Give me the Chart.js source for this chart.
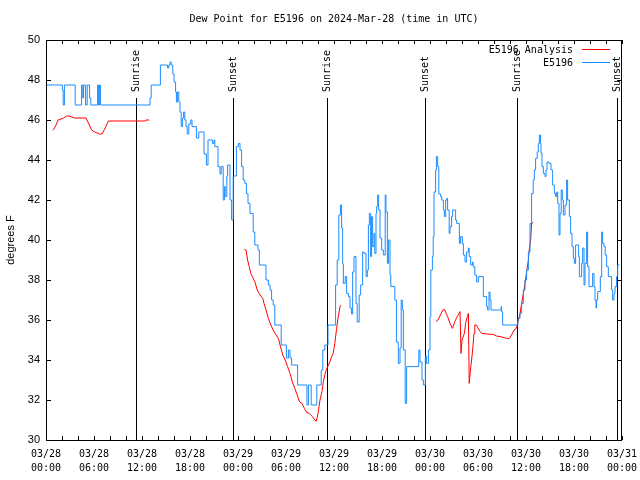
<!DOCTYPE html>
<html>
<head>
<meta charset="utf-8">
<script src="https://cdn.jsdelivr.net/npm/chart.js@4/dist/chart.umd.min.js"></script>
<style>
  html, body { margin: 0; padding: 0; background: #fff; }
  canvas { display: block; }
</style>
</head>
<body>
<canvas id="dew" width="640" height="480"></canvas>
<script>
// data (hours since 03/28 00:00 UTC, degrees F)
const blueHours = [
  0, 2.05, 2.15, 2.3, 3.65, 4.45, 4.6, 4.7, 4.95, 5.15, 5.45, 5.6, 6.45, 6.55, 6.7, 6.8,
  13.0, 13.15, 14.3, 15.2, 15.35, 15.5, 15.65, 15.85, 16.0, 16.2, 16.3, 16.45, 16.6, 16.75, 16.9,
  17.05, 17.2, 17.35, 17.5, 17.65, 17.85, 18.1, 18.25, 18.8, 19.1, 19.75, 20.05, 20.25, 20.8, 21.0,
  21.1, 21.5, 21.75, 21.9, 22.15, 22.3, 22.4, 22.6, 22.7, 23.0, 23.2, 23.4, 23.8, 24.05, 24.25,
  24.45, 24.65, 24.85, 25.05, 25.25, 25.5, 25.9, 26.1, 26.5, 26.67, 27.5, 27.8, 28.0, 28.2, 28.4,
  28.6, 29.4, 30.05, 30.3, 30.5, 30.7, 31.45, 32.62, 32.8, 33.15, 33.85, 34.4, 34.6, 34.85, 35.25,
  36.2, 36.4, 36.6, 36.8, 36.95, 37.08, 37.17, 37.4, 37.58, 37.8, 38.0, 38.2, 38.33, 38.5, 38.75,
  38.9, 39.15, 39.33, 39.58, 39.75, 40.0, 40.17, 40.3, 40.42, 40.58, 40.7, 40.83, 41.0, 41.1, 41.25,
  41.33, 41.46, 41.58, 41.75, 41.96, 42.17, 42.4, 42.5, 42.67, 42.8, 43.0, 43.1, 43.6, 43.8, 44.04,
  44.25, 44.4, 44.54, 44.67, 44.9, 45.08, 46.6, 46.75, 47.0, 47.2, 47.42, 47.58, 47.8, 48.0, 48.1,
  48.3, 48.4, 48.5, 48.7, 48.8, 48.96, 49.1, 49.33, 49.46, 49.67, 49.8, 49.96, 50.08, 50.2, 50.4,
  50.5, 50.7, 50.83, 51.2, 51.33, 51.67, 51.83, 52.04, 52.17, 52.375, 52.58, 52.8, 52.9, 53.08, 53.3,
  53.4, 53.6, 53.83, 54.04, 54.67, 55.08, 55.2, 55.375, 55.5, 55.625, 56.9, 56.96, 57.08, 59.0, 59.25,
  59.46, 59.67, 59.875, 60.08, 60.3, 60.5, 60.7, 60.9, 61.04, 61.2, 61.4, 61.54, 61.67, 61.8, 61.875,
  62.0, 62.17, 62.375, 62.5, 62.625, 62.875, 63.125, 63.33, 63.54, 63.7, 63.83, 63.96, 64.125, 64.25, 64.4,
  64.54, 64.67, 64.875, 65.08, 65.2, 65.42, 65.58, 65.75, 65.92, 66.04, 66.2, 66.58, 66.67, 66.96, 67.08,
  67.25, 67.375, 67.58, 67.7, 67.875, 68.33, 68.5, 68.625, 68.75, 68.83, 68.96, 69.29, 69.46, 69.58, 69.75,
  69.9, 70.08, 70.29, 70.7, 70.83, 71.0, 71.125, 71.33, 71.46, 71.67
];
const blueTemps = [
  47.75, 47.5, 46.75, 47.75, 46.75, 47.75, 47.1, 47.75, 46.75, 47.75, 47.1, 46.75, 47.75, 46.75, 47.75, 46.75,
  47.1, 47.75, 48.75, 48.6, 48.75, 48.9, 48.75, 48.3, 47.9, 47.4, 46.9, 47.4, 46.9, 46.4, 45.67,
  46.1, 46.4, 46.0, 45.67, 45.3, 45.8, 46.0, 45.67, 45.1, 45.4, 44.3, 43.75, 45.0, 44.83, 45.0,
  44.67, 43.67, 43.3, 43.67, 42.0, 42.67, 42.17, 43.2, 43.75, 42.0, 41.0, 43.2, 44.67, 44.83, 44.5,
  43.67, 43.0, 42.83, 42.33, 41.83, 41.33, 40.4, 39.75, 39.5, 38.75, 38.0, 37.75, 37.5, 37.0, 36.75,
  35.75, 34.75, 34.1, 34.5, 34.1, 33.75, 32.75, 31.75, 32.75, 31.75, 32.75, 33.5, 34.5, 34.75, 35.75,
  37.75, 39.0, 41.25, 41.75, 40.6, 38.8, 37.83, 38.17, 37.33, 37.17, 36.6, 36.3, 38.4, 39.17, 36.83,
  35.9, 37.25, 37.75, 39.4, 39.33, 38.17, 38.5, 40.75, 41.33, 39.17, 41.17, 39.67, 40.33, 39.33, 41.33,
  41.67, 42.25, 41.5, 40.1, 39.5, 39.25, 42.25, 41.4, 38.83, 40.0, 38.25, 37.67, 37.0, 34.9, 33.83,
  34.6, 37.0, 36.5, 34.5, 31.83, 33.67, 34.5, 33.9, 33.0, 32.75, 34.2, 33.83, 34.5, 36.17, 38.5,
  39.17, 40.17, 42.4, 43.5, 44.17, 43.67, 42.3, 42.17, 42.0, 41.5, 41.17, 42.0, 42.08, 41.5, 40.33,
  40.67, 41.17, 41.5, 41.0, 40.83, 39.83, 40.17, 39.83, 39.25, 38.9, 39.4, 39.6, 39.17, 38.75, 38.9,
  38.67, 38.25, 37.9, 38.17, 37.17, 36.67, 36.5, 37.4, 37.0, 36.5, 36.67, 36.4, 35.75, 36.08, 36.33,
  36.83, 37.5, 38.0, 38.5, 39.4, 40.83, 42.33, 43.0, 43.5, 44.08, 44.4, 44.83, 45.25, 44.83, 44.33,
  43.67, 43.33, 43.17, 43.5, 43.9, 43.83, 43.5, 42.75, 42.33, 42.17, 42.4, 41.83, 40.25, 41.33, 42.5,
  42.0, 41.25, 41.75, 43.0, 42.0, 41.17, 40.33, 39.67, 39.08, 38.83, 39.75, 39.17, 38.17, 38.83, 39.6,
  37.75, 38.83, 40.4, 38.67, 37.67, 38.33, 37.67, 37.0, 36.6, 37.0, 37.42, 38.17, 40.4, 39.83, 39.67,
  39.25, 38.67, 38.17, 37.5, 37.0, 37.33, 37.67, 38.17, 38.75, 38.75
];

// analysis series, null = gap
const redHours = [
  0.83, 1.0, 1.25, 1.5, 1.75, 2.2, 2.6, 2.92, 3.2, 3.6, 5.0, 5.3, 5.7, 6.1, 6.67, 7.0, 7.4, 7.8, 12.4, 12.5, 12.9,
  13.0,
  24.8, 25.0, 25.2, 25.4, 25.6, 25.8, 26.1, 26.4, 26.75, 27.1, 27.25, 27.5, 27.8, 28.1, 28.4, 28.75, 29.05,
  29.25, 29.6, 29.9, 30.2, 30.5, 30.8, 31.1, 31.4, 31.7, 32.0, 32.3, 32.6, 32.9, 33.3, 33.6, 33.8, 34.0,
  34.25, 34.5, 34.67, 34.9, 35.1, 35.3, 35.5, 35.7, 35.9, 36.1, 36.33, 36.5, 36.75, 36.9,
  37.0,
  48.75, 49.0, 49.3, 49.6, 49.8, 50.2, 50.5, 50.8, 51.1, 51.4, 51.75, 51.875, 52.0, 52.3, 52.45, 52.67,
  52.8, 52.9, 53.1, 53.2, 53.33, 53.5, 53.6, 53.8, 54.25, 54.5, 55.1, 55.9, 56.3, 56.75, 57.6, 57.9,
  58.2, 58.5, 58.8, 59.0, 59.25, 59.46, 59.67, 59.875, 60.08, 60.3, 60.4, 60.6, 60.7, 60.9
];
const redTemps = [
  45.5, 45.55, 45.75, 46.0, 46.03, 46.1, 46.2, 46.2, 46.15, 46.1, 46.1, 45.85, 45.5, 45.4, 45.3, 45.3, 45.6, 45.95, 45.95, 46.0, 46.0,
  null,
  39.53, 39.5, 39.0, 38.67, 38.33, 38.17, 37.92, 37.5, 37.25, 37.08, 36.83, 36.5, 36.08, 35.75, 35.5, 35.25, 35.08,
  34.75, 34.25, 34.0, 33.67, 33.33, 32.9, 32.58, 32.25, 31.9, 31.83, 31.58, 31.37, 31.33, 31.17, 31.0, 30.95, 31.33,
  32.0, 32.42, 32.92, 33.33, 33.58, 33.75, 33.92, 34.17, 34.33, 34.83, 35.58, 36.08, 36.67, 36.75,
  null,
  35.92, 36.0, 36.25, 36.5, 36.53, 36.17, 35.83, 35.58, 35.92, 36.17, 36.42, 34.33, 35.0, 35.33, 35.83, 36.17,
  36.33, 32.83, 33.67, 34.0, 34.5, 35.33, 35.75, 35.75, 35.42, 35.33, 35.3, 35.28, 35.2, 35.17, 35.08, 35.07,
  35.25, 35.5, 35.58, 35.92, 36.33, 36.83, 37.33, 37.83, 38.42, 39.0, 39.5, 40.08, 40.83, 40.88
];

// sunrise / sunset markers
const sunHours = [11.2, 23.4, 35.1, 47.4, 58.9, 71.4];
const sunLabels = ["Sunrise", "Sunset", "Sunrise", "Sunset", "Sunrise", "Sunset"];
const sunLineTop = 47.1;

// axis labels
const xDates = ["03/28","03/28","03/28","03/28","03/29","03/29","03/29","03/29","03/30","03/30","03/30","03/30","03/31"];
const xTimes = ["00:00","06:00","12:00","18:00","00:00","06:00","12:00","18:00","00:00","06:00","12:00","18:00","00:00"];
const xMinorStep = 2;
const yStep = 2;

const titleText = "Dew Point for E5196 on 2024-Mar-28 (time in UTC)";
const seriesNames = ["E5196 Analysis", "E5196"];
const BLUE = "#1a8cff";
const RED = "#ff0000";
const MONO = '10px "DejaVu Sans Mono", monospace';

const toPoints = (xs, ys) => xs.map((h, i) => ({ x: h, y: ys[i] }));

const gnuplotFrame = {
  id: "gnuplotFrame",
  beforeDatasetsDraw(chart) {
    const { ctx, chartArea: a, scales: { x, y } } = chart;
    ctx.save();
    ctx.strokeStyle = "#000";
    ctx.fillStyle = "#000";
    ctx.lineWidth = 1;
    ctx.font = MONO;
    sunHours.forEach((h, i) => {
      const px = Math.round(x.getPixelForValue(h)) + 0.5;
      const top = Math.round(y.getPixelForValue(sunLineTop));
      ctx.beginPath();
      ctx.moveTo(px, top);
      ctx.lineTo(px, a.bottom);
      ctx.stroke();
      ctx.save();
      ctx.translate(px, top - 6);
      ctx.rotate(-Math.PI / 2);
      ctx.textAlign = "left";
      ctx.textBaseline = "middle";
      ctx.fillText(sunLabels[i], 0, 0);
      ctx.restore();
    });
    ctx.restore();
  },
  afterDraw(chart) {
    const { ctx, chartArea: a, scales: { x, y } } = chart;
    ctx.save();
    ctx.strokeStyle = "#000";
    ctx.lineWidth = 1;
    ctx.strokeRect(a.left + 0.5, a.top + 0.5, a.right - a.left - 1, a.bottom - a.top);

    // inward ticks
    ctx.beginPath();
    for (let h = x.min; h <= x.max; h += xMinorStep) {
      const px = Math.round(x.getPixelForValue(h)) + 0.5;
      ctx.moveTo(px, a.bottom); ctx.lineTo(px, a.bottom - 4);
      ctx.moveTo(px, a.top); ctx.lineTo(px, a.top + 4);
    }
    for (let v = y.min; v <= y.max; v += yStep) {
      const py = Math.round(y.getPixelForValue(v)) + 0.5;
      ctx.moveTo(a.left, py); ctx.lineTo(a.left + 5, py);
      ctx.moveTo(a.right, py); ctx.lineTo(a.right - 5, py);
    }
    ctx.stroke();

    // title
    ctx.fillStyle = "#000";
    ctx.font = MONO;
    ctx.textAlign = "center";
    ctx.textBaseline = "middle";
    ctx.fillText(titleText, (a.left + a.right) / 2, 19);

    // key
    ctx.textAlign = "right";
    const keyColors = [RED, BLUE];
    seriesNames.forEach((name, i) => {
      const ty = a.top + 10 + i * 13;
      ctx.fillStyle = "#000";
      ctx.fillText(name, a.right - 49, ty);
      ctx.strokeStyle = keyColors[i];
      ctx.beginPath();
      ctx.moveTo(a.right - 40, ty - 0.5);
      ctx.lineTo(a.right - 12, ty - 0.5);
      ctx.stroke();
    });
    ctx.restore();
  }
};

new Chart(document.getElementById("dew"), {
  type: "line",
  data: {
    datasets: [
      {
        label: seriesNames[1],
        data: toPoints(blueHours, blueTemps),
        borderColor: BLUE,
        borderWidth: 1,
        pointRadius: 0,
        stepped: true,
        tension: 0
      },
      {
        label: seriesNames[0],
        data: toPoints(redHours, redTemps),
        borderColor: RED,
        borderWidth: 1,
        pointRadius: 0,
        spanGaps: false,
        tension: 0
      }
    ]
  },
  options: {
    responsive: false,
    animation: false,
    devicePixelRatio: 1,
    layout: { padding: { top: 40, right: 18, left: 0, bottom: 0 } },
    plugins: { legend: { display: false }, title: { display: false }, tooltip: { enabled: false } },
    scales: {
      x: {
        type: "linear",
        min: 0,
        max: 72,
        grid: { display: false, drawTicks: false },
        border: { display: false },
        ticks: {
          stepSize: 6,
          autoSkip: false,
          maxRotation: 0,
          padding: 7,
          color: "#000",
          font: { family: "DejaVu Sans Mono", size: 10, lineHeight: 1.4 },
          callback: (v, i) => [xDates[i], xTimes[i]]
        },
        afterFit: s => { s.height = 40; s.paddingLeft = 0; s.paddingRight = 0; }
      },
      y: {
        min: 30,
        max: 50,
        grid: { display: false, drawTicks: false },
        border: { display: false },
        ticks: {
          stepSize: yStep,
          padding: 6,
          color: "#000",
          font: { family: "Liberation Sans", size: 11 }
        },
        title: {
          display: true,
          text: "degrees F",
          color: "#000",
          font: { family: "Liberation Sans", size: 11 },
          padding: { top: 4, bottom: 0 }
        },
        afterFit: s => { s.width = 46; }
      }
    }
  },
  plugins: [gnuplotFrame]
});
</script>
</body>
</html>
